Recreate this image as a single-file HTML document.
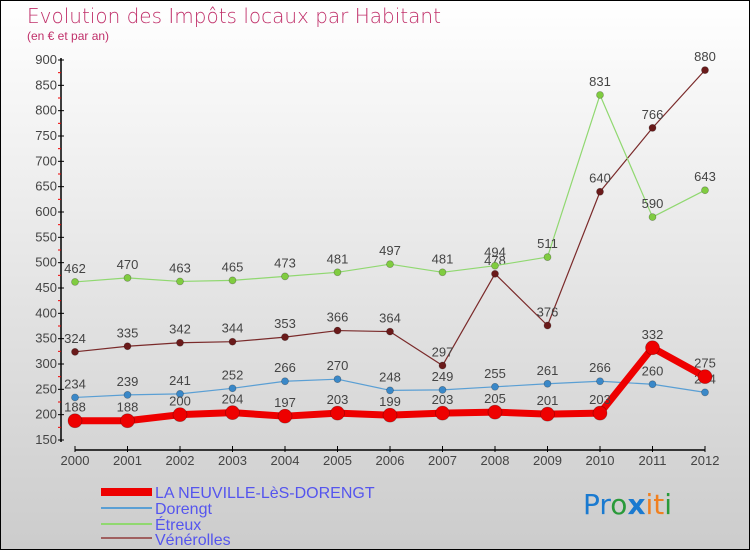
<!DOCTYPE html>
<html><head><meta charset="utf-8"><style>
body{margin:0}
#c{width:748px;height:548px;border:1px solid #000;background:linear-gradient(#ffffff,#cccccc);position:relative;font-family:"Liberation Sans",sans-serif}
</style></head><body>
<div id="c">
<svg width="748" height="548" viewBox="1 1 748 548" id="s" font-family="Liberation Sans, sans-serif">
<text x="27" y="23" font-size="20" fill="#c0306a" font-family="DejaVu Sans" font-weight="200">Evolution des Impôts locaux par Habitant</text>
<text x="27" y="40" font-size="12" fill="#c0306a">(en € et par an)</text>
<g id="axes"></g><g id="series"></g>
<g font-size="16" fill="#5555ee">
<line x1="101" y1="492" x2="152" y2="492" stroke="#ee0000" stroke-width="8"/>
<text x="155" y="498">LA NEUVILLE-LèS-DORENGT</text>
<line x1="101" y1="508" x2="152" y2="508" stroke="#5a9fd4" stroke-width="2"/>
<text x="155" y="514">Dorengt</text>
<line x1="101" y1="524" x2="152" y2="524" stroke="#90d870" stroke-width="2"/>
<text x="155" y="530">Étreux</text>
<line x1="101" y1="538" x2="152" y2="538" stroke="#a06060" stroke-width="2"/>
<text x="155" y="545">Vénérolles</text>
</g>
<g font-size="28" font-family="DejaVu Sans">
<text x="583" y="514"><tspan fill="#1a7ad0">Pr</tspan><tspan fill="#2a9a3a">o</tspan><tspan fill="#1a7ad0" font-weight="bold">x</tspan><tspan fill="#f08020">i</tspan><tspan fill="#f08020">t</tspan><tspan fill="#2a9a3a">i</tspan></text>
</g>
</svg>
</div>
<script>
const years=["2000","2001","2002","2003","2004","2005","2006","2007","2008","2009","2010","2011","2012"];
const yTicks=[150,200,250,300,350,400,450,500,550,600,650,700,750,800,850,900];
const laNeuville=[188,188,200,204,197,203,199,203,205,201,203,332,275];
const dorengt=[234,239,241,252,266,270,248,249,255,261,266,260,244];
const etreux=[462,470,463,465,473,481,497,481,494,511,831,590,643];
const venerolles=[324,335,342,344,353,366,364,297,478,376,640,766,880];
const NS="http://www.w3.org/2000/svg";
const X=i=>75+i*52.5, Y=v=>440-(v-150)*380/750;
function mk(t,a,p){const e=document.createElementNS(NS,t);for(const k in a)e.setAttribute(k,a[k]);p.appendChild(e);return e;}
const ax=document.getElementById('axes'), se=document.getElementById('series');
let l=mk('line',{x1:61,y1:58,x2:61,y2:442,stroke:'#000','stroke-width':1.5},ax);


l=mk('line',{x1:75,y1:450,x2:705,y2:450,stroke:'#000','stroke-width':1.5},ax);


yTicks.forEach((v,i)=>{
 mk('line',{x1:58,y1:Y(v),x2:64,y2:Y(v),stroke:'#000'},ax);
 if(i<yTicks.length-1) mk('line',{x1:58,y1:Y(v+25),x2:61,y2:Y(v+25),stroke:'#e00'},ax);
 const t=mk('text',{x:57,y:Y(v)+4,'text-anchor':'end','font-size':13,fill:'#444'},ax);
 t.textContent=v;
 
 
});
years.forEach((y,i)=>{
 mk('line',{x1:X(i),y1:446,x2:X(i),y2:452,stroke:'#000'},ax);
 const t=mk('text',{x:X(i),y:465,'text-anchor':'middle','font-size':13,fill:'#444'},ax);
 t.textContent=y;
 
 
});
function draw(data,name,color,w,r,dot){
 const g=mk('g',{},se);
 
 
 mk('polyline',{points:data.map((v,i)=>X(i)+','+Y(v)).join(' '),fill:'none',stroke:color,'stroke-width':w,'stroke-linejoin':'round'},g);
 data.forEach((v,i)=>{
  const c=mk('circle',{cx:X(i),cy:Y(v),r:r,fill:dot,stroke:'rgba(0,0,0,0.3)','stroke-width':0.7},g);
  
  
  const t=mk('text',{x:X(i),y:Y(v)-9,'text-anchor':'middle','font-size':13,fill:'#444'},g);
  t.textContent=v;
  
  
 });
}
draw(venerolles,'venerolles','#7a2a2a',1.2,3.5,'#6a1a1a');
draw(etreux,'etreux','#90d870',1.2,3.5,'#80cc40');
draw(dorengt,'dorengt','#5a9fd4',1.2,3.5,'#3a88c8');
draw(laNeuville,'la-neuville','#ee0000',7,7,'#ee0000');
</script>
</body></html>
